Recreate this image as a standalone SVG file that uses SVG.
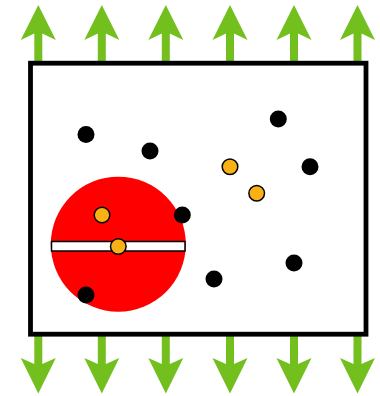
<svg xmlns="http://www.w3.org/2000/svg" width="380" height="396" viewBox="0 0 380 396">
<style>
.up,.down{fill:#72BF1E}
.blk{fill:#000}
.org{fill:#F9B115;stroke:#000;stroke-width:1.5}
</style>
<defs>
<path id="upArrow" d="M0,5 L17.5,40 L4,33.5 L4,61 L-4,61 L-4,33.5 L-17.5,40 Z"/>
<path id="downArrow" d="M0,393.5 L17.5,358 L4,364 L4,336 L-4,336 L-4,364 L-17.5,358 Z"/>
</defs>
<rect width="380" height="396" fill="#fff"/>
<g id="connectors">
<use href="#upArrow" class="up" x="38.3"/>
<use href="#upArrow" class="up" x="101.8"/>
<use href="#upArrow" class="up" x="165.8"/>
<use href="#upArrow" class="up" x="230"/>
<use href="#upArrow" class="up" x="294"/>
<use href="#upArrow" class="up" x="357.5"/>
<use href="#downArrow" class="down" x="38.3"/>
<use href="#downArrow" class="down" x="101.8"/>
<use href="#downArrow" class="down" x="165.8"/>
<use href="#downArrow" class="down" x="230"/>
<use href="#downArrow" class="down" x="294"/>
<use href="#downArrow" class="down" x="357.5"/>
</g>
<g id="box">
<rect x="30.5" y="63.2" width="335.5" height="271" fill="#fff" stroke="#000" stroke-width="4.8"/>
</g>
<g id="cell">
<circle cx="118.3" cy="244.2" r="67.5" fill="#f00"/>
<rect x="51.5" y="241.5" width="133.5" height="9.5" fill="#fff" stroke="#000" stroke-width="1.5"/>
</g>
<g id="particles">
<circle class="blk" cx="86" cy="134.5" r="8.5"/>
<circle class="blk" cx="150" cy="151" r="8.5"/>
<circle class="blk" cx="278.3" cy="119" r="8.5"/>
<circle class="blk" cx="310" cy="166.7" r="8.5"/>
<circle class="blk" cx="182.3" cy="215" r="8.5"/>
<circle class="blk" cx="294" cy="263" r="8.5"/>
<circle class="blk" cx="214" cy="279" r="8.5"/>
<circle class="blk" cx="86" cy="295" r="8.5"/>
<circle class="org" cx="230" cy="166.7" r="7.8"/>
<circle class="org" cx="256.7" cy="193.3" r="7.8"/>
<circle class="org" cx="102" cy="215" r="7.8"/>
<circle class="org" cx="118.3" cy="246.5" r="7.8"/>
</g>
</svg>
